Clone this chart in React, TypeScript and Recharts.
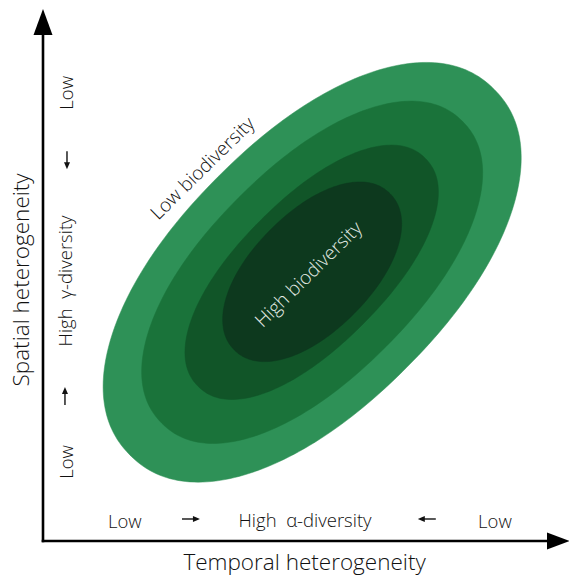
import React from 'react';
import { ScatterChart, Scatter, XAxis, YAxis, ReferenceLine, ReferenceDot } from 'recharts';

// Nested biodiversity zones (data units: 0-100 on both heterogeneity axes)
const zoneNames = ['Low biodiversity', 'Mid-low', 'Mid-high', 'High biodiversity'];
const zoneCenterX = [53.3, 53.3, 53.2, 53.3];
const zoneCenterY = [53.0, 53.0, 53.0, 53.1];
const zoneSemiMajor = [51.0, 42.1, 31.8, 21.8];
const zoneSemiMinor = [26.5, 20.7, 14.4, 11.7];
const zoneAngleDeg = [45, 45, 45, 45];
const zoneRoundness = [2.15, 2.15, 2.15, 2.1];

// Annotation texts
const yNoteLabels = ['Low', 'High  γ-diversity', 'Low'];
const yNoteX = [4.55, 4.2, 4.55];
const yNoteY = [88.4, 51.3, 15.6];
const xNoteLabels = ['Low', 'High  α-diversity', 'Low'];
const xNoteX = [16.2, 51.9, 89.5];
const xNoteY = [4.1, 4.3, 4.1];
const smallArrowDir = ['down', 'up', 'right', 'left'];
const smallArrowX = [4.75, 4.35, 29.3, 76.0];
const smallArrowY = [75.1, 28.6, 4.34, 4.34];
const zoneLabelText = ['Low biodiversity', 'High biodiversity'];
const zoneLabelX = [31.5, 52.5];
const zoneLabelY = [73.6, 52.7];
const zoneLabelAngle = [-44.5, -44.5];
const xTitle = 'Temporal heterogeneity';
const yTitle = 'Spatial heterogeneity';

const ZONE_COLORS = ['#2e9157', '#1a733a', '#115528', '#0d391e'];
const ZONE_LABEL_COLORS = ['#111111', '#e2ebe4'];
const FONT = '"Open Sans", "Noto Sans", sans-serif';

const N = 240;
function zoneOutline(i: number) {
  const t0 = (zoneAngleDeg[i] * Math.PI) / 180;
  const n = zoneRoundness[i];
  const pts: { x: number; y: number }[] = [];
  for (let k = 0; k <= N; k++) {
    const t = (2 * Math.PI * k) / N;
    const c = Math.cos(t);
    const s = Math.sin(t);
    const u = zoneSemiMajor[i] * Math.sign(c) * Math.pow(Math.abs(c), 2 / n);
    const v = zoneSemiMinor[i] * Math.sign(s) * Math.pow(Math.abs(s), 2 / n);
    pts.push({
      x: zoneCenterX[i] + u * Math.cos(t0) - v * Math.sin(t0),
      y: zoneCenterY[i] + u * Math.sin(t0) + v * Math.cos(t0),
    });
  }
  return pts;
}

const textShape = (label: string, angle: number, size: number, color: string, weight = 300) => (p: any) => (
  <text
    x={p.cx}
    y={p.cy}
    transform={angle ? `rotate(${angle} ${p.cx} ${p.cy})` : undefined}
    textAnchor="middle"
    dominantBaseline="central"
    fontFamily={FONT}
    fontWeight={weight}
    fontSize={size}
    fill={color}
    style={{ whiteSpace: 'pre' }}
  >
    {label}
  </text>
);

const smallArrowShape = (dir: string) => (p: any) => {
  const { cx, cy } = p;
  const L = 9;
  const rot = dir === 'right' ? 0 : dir === 'down' ? 90 : dir === 'left' ? 180 : -90;
  return (
    <g transform={`rotate(${rot} ${cx} ${cy})`}>
      <line x1={cx - L} y1={cy} x2={cx + 3} y2={cy} stroke="#111" strokeWidth={1.4} />
      <path d={`M${cx + L},${cy} L${cx + 2},${cy - 3} L${cx + 2},${cy + 3} Z`} fill="#111" />
    </g>
  );
};

export default function App() {
  return (
    <div style={{ position: 'absolute', left: 0, top: 0, width: 569, height: 575, background: '#fff' }}>
      <ScatterChart width={569} height={575} margin={{ top: 34, right: 21, bottom: 34, left: 43 }}>
        <XAxis type="number" dataKey="x" domain={[0, 100]} hide allowDataOverflow />
        <YAxis type="number" dataKey="y" domain={[0, 100]} hide allowDataOverflow />
        {zoneNames.map((name, i) => (
          <Scatter
            key={name}
            name={name}
            data={zoneOutline(i)}
            fill={ZONE_COLORS[i]}
            line={{ fill: ZONE_COLORS[i], stroke: ZONE_COLORS[i], strokeWidth: 0.5 }}
            lineType="joint"
            shape={() => <g />}
            isAnimationActive={false}
          />
        ))}
        <ReferenceLine
          segment={[{ x: 0, y: 0 }, { x: 100, y: 0 }]}
          stroke="#000"
          strokeWidth={2.6}
          strokeLinecap="square"
          ifOverflow="visible"
        />
        <ReferenceLine
          segment={[{ x: 0, y: 0 }, { x: 0, y: 100 }]}
          stroke="#000"
          strokeWidth={2.6}
          strokeLinecap="square"
          ifOverflow="visible"
        />
        <ReferenceDot
          x={0}
          y={100}
          r={0}
          ifOverflow="visible"
          shape={(p: any) => (
            <path d={`M${p.cx - 9.5},${p.cy + 1} L${p.cx},${p.cy - 25} L${p.cx + 9.5},${p.cy + 1} Z`} fill="#000" />
          )}
        />
        <ReferenceDot
          x={100}
          y={0}
          r={0}
          ifOverflow="visible"
          shape={(p: any) => (
            <path d={`M${p.cx - 1},${p.cy - 8.5} L${p.cx + 22},${p.cy} L${p.cx - 1},${p.cy + 8.5} Z`} fill="#000" />
          )}
        />
        {yNoteLabels.map((t, i) => (
          <ReferenceDot key={'yn' + i} x={yNoteX[i]} y={yNoteY[i]} r={0} ifOverflow="visible" shape={textShape(t, -90, 18.5, '#111')} />
        ))}
        {xNoteLabels.map((t, i) => (
          <ReferenceDot key={'xn' + i} x={xNoteX[i]} y={xNoteY[i]} r={0} ifOverflow="visible" shape={textShape(t, 0, 18.5, '#111')} />
        ))}
        {smallArrowDir.map((d, i) => (
          <ReferenceDot key={'sa' + i} x={smallArrowX[i]} y={smallArrowY[i]} r={0} ifOverflow="visible" shape={smallArrowShape(d)} />
        ))}
        {zoneLabelText.map((t, i) => (
          <ReferenceDot
            key={'zl' + i}
            x={zoneLabelX[i]}
            y={zoneLabelY[i]}
            r={0}
            ifOverflow="visible"
            shape={textShape(t, zoneLabelAngle[i], 19, ZONE_LABEL_COLORS[i])}
          />
        ))}
        <ReferenceDot x={51.8} y={-4.0} r={0} ifOverflow="visible" shape={textShape(xTitle, 0, 22.5, '#111')} />
        <ReferenceDot x={-4.55} y={51.5} r={0} ifOverflow="visible" shape={textShape(yTitle, -90, 22.5, '#111')} />
      </ScatterChart>
    </div>
  );
}
